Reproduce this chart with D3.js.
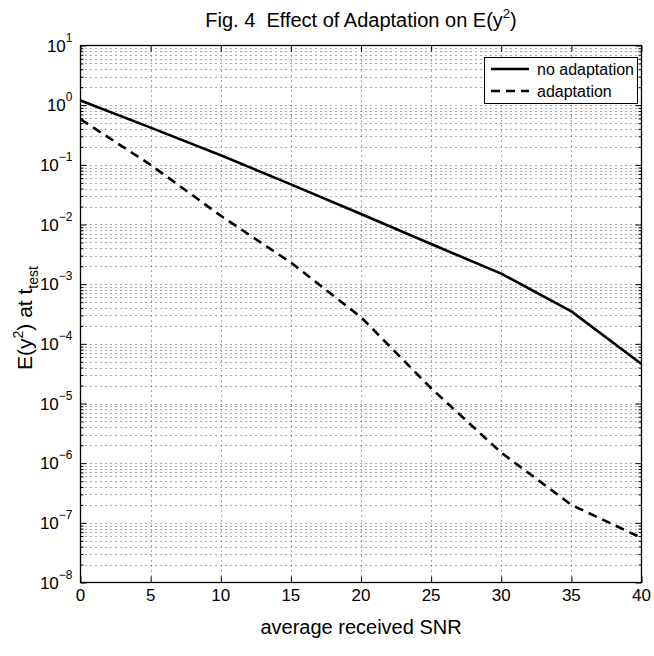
<!DOCTYPE html>
<html><head><meta charset="utf-8">
<script src="https://cdn.jsdelivr.net/npm/d3@7"></script>
<style>
body{margin:0;background:#fff}
svg{display:block}
text{font-family:"Liberation Sans",Arial,Helvetica,sans-serif;fill:#000;white-space:pre}
</style>
</head><body>
<svg id="c" width="654" height="656"></svg>
<script>
// ---- data ----
const snr = [0, 5, 10, 15, 20, 25, 30, 35, 40];
const noAdaptation = [1.2, 0.42, 0.145, 0.047, 0.015, 0.0047, 0.0015, 3.5e-4, 4.6e-5];
const adaptation = [0.58, 0.1, 0.014, 2.3e-3, 2.8e-4, 1.8e-5, 1.5e-6, 2.0e-7, 5.6e-8];
const seriesNames = ["no adaptation", "adaptation"];
const xTicks = [0, 5, 10, 15, 20, 25, 30, 35, 40];
const yExponents = [1, 0, -1, -2, -3, -4, -5, -6, -7, -8];
const titleText = "Fig. 4  Effect of Adaptation on E(y";
const xLabelText = "average received SNR";

// ---- layout ----
const L = 80.5, R = 641.5, T = 45.5, B = 582.5;
const svg = d3.select("#c");
const x = d3.scaleLinear().domain([0, 40]).range([L, R]);
const y = d3.scaleLog().domain([1e-8, 1e1]).range([B, T]);

// grid
const minorVals = [];
for (let e = -8; e < 1; e++) for (let m = 1; m <= 9; m++) minorVals.push(m * Math.pow(10, e));
minorVals.push(10);
const grid = svg.append("g").attr("stroke", "#555").attr("stroke-width", 1).attr("stroke-dasharray", "1,4");
grid.selectAll("line.h").data(minorVals.slice(1, -1)).join("line")
  .attr("x1", L).attr("x2", R)
  .attr("y1", d => Math.round(y(d)) + 0.5).attr("y2", d => Math.round(y(d)) + 0.5);
grid.selectAll("line.v").data(xTicks.slice(1, -1)).join("line")
  .attr("y1", T).attr("y2", B)
  .attr("x1", d => Math.round(x(d)) + 0.5).attr("x2", d => Math.round(x(d)) + 0.5);

// axes ticks via d3 axis
const yMinor = minorVals.filter(v => Math.abs(Math.log10(v) - Math.round(Math.log10(v))) > 1e-9);
const yMajor = yExponents.map(e => Math.pow(10, e));
function tickGroup(axisFn, tx, ty, len, vals, scale) {
  const g = svg.append("g").attr("transform", `translate(${tx},${ty})`)
    .call(axisFn(scale).tickValues(vals).tickSize(len).tickFormat(""));
  g.select(".domain").remove();
  g.selectAll("line").attr("stroke", "#000").attr("stroke-width", 1);
  return g;
}
tickGroup(d3.axisRight, L, 0, 6, yMajor, y);
tickGroup(d3.axisRight, L, 0, 3, yMinor, y);
tickGroup(d3.axisLeft, R, 0, 6, yMajor, y);
tickGroup(d3.axisLeft, R, 0, 3, yMinor, y);
tickGroup(d3.axisTop, 0, B, 6, xTicks, x);
tickGroup(d3.axisBottom, 0, T, 6, xTicks, x);

// frame
svg.append("rect").attr("x", L).attr("y", T).attr("width", R - L).attr("height", B - T)
  .attr("fill", "none").attr("stroke", "#000").attr("stroke-width", 1.3);

// y tick labels
const yl = svg.append("g").attr("font-size", 17);
yExponents.forEach(e => {
  const t = yl.append("text").attr("x", L - 8).attr("y", y(Math.pow(10, e)) + 6).attr("text-anchor", "end");
  t.append("tspan").text("10");
  t.append("tspan").attr("font-size", 12).attr("dy", -10).text(e < 0 ? "\u2212" + (-e) : String(e));
});

// x tick labels
svg.append("g").selectAll("text").data(xTicks).join("text")
  .attr("x", d => x(d)).attr("y", B + 18).attr("text-anchor", "middle").attr("font-size", 17)
  .text(d => d);

// axis labels
svg.append("text").attr("x", (L + R) / 2).attr("y", 634).attr("text-anchor", "middle")
  .attr("font-size", 20).text(xLabelText);
const yLab = svg.append("text").attr("transform", `translate(32,${(T + B) / 2 + 4}) rotate(-90)`)
  .attr("text-anchor", "middle").attr("font-size", 21);
yLab.append("tspan").text("E(y");
yLab.append("tspan").attr("font-size", 14).attr("dy", -9).text("2");
yLab.append("tspan").attr("dy", 9).text(") at t");
yLab.append("tspan").attr("font-size", 14).attr("dy", 6).text("test");

// title
const title = svg.append("text").attr("x", (L + R) / 2).attr("y", 27).attr("text-anchor", "middle")
  .attr("font-size", 20);
title.append("tspan").text(titleText);
title.append("tspan").attr("font-size", 13).attr("dy", -9).text("2");
title.append("tspan").attr("dy", 9).text(")");

// lines
const line = d3.line().x((d, i) => x(snr[i])).y(d => y(d));
svg.append("path").datum(noAdaptation).attr("d", line).attr("fill", "none")
  .attr("stroke", "#000").attr("stroke-width", 2.6).attr("stroke-linejoin", "round");
svg.append("path").datum(adaptation).attr("d", line).attr("fill", "none")
  .attr("stroke", "#000").attr("stroke-width", 2.6).attr("stroke-dasharray", "9,6");

// legend
const lg = svg.append("g");
lg.append("rect").attr("x", 484.5).attr("y", 57.5).attr("width", 153).attr("height", 46)
  .attr("fill", "#fff").attr("stroke", "#000").attr("stroke-width", 1);
const dashes = [null, "9,6"];
seriesNames.forEach((n, i) => {
  const yy = 69 + i * 22;
  lg.append("line").attr("x1", 491).attr("x2", 529).attr("y1", yy).attr("y2", yy)
    .attr("stroke", "#000").attr("stroke-width", 2.6).attr("stroke-dasharray", dashes[i]);
  lg.append("text").attr("x", 537).attr("y", yy + 6).attr("font-size", 16).text(n);
});
</script>
</body></html>
